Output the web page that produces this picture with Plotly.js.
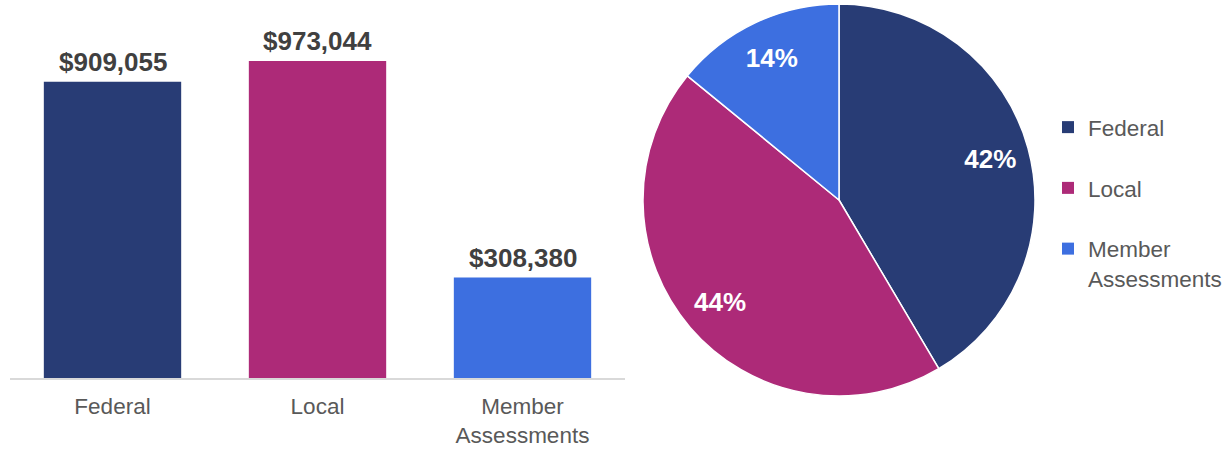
<!DOCTYPE html>
<html><head><meta charset="utf-8">
<script src="https://cdn.plot.ly/plotly-3.0.1.min.js"></script>
<style>html,body{margin:0;padding:0;background:#fff}#c{width:1230px;height:449px}</style>
</head><body><div id="c"></div>
<script>
const categories = ['Federal', 'Local', 'Member Assessments'];
const tickLabels = ['Federal', 'Local', 'Member<br>Assessments'];
const legendLabels = ['Federal', 'Local', 'Member<br>Assessments'];
const amounts = [909055, 973044, 308380];
const barLabels = ['$909,055', '$973,044', '$308,380'];
const colors = ['#283C75', '#AD2A78', '#3D6FE0'];

const font = 'Liberation Sans, Arial, sans-serif';

const barTraces = categories.map((c, i) => ({
  type: 'bar', x: [c], y: [amounts[i]], name: legendLabels[i],
  legendgroup: 'g' + i,
  marker: {color: colors[i]},
  hoverinfo: 'none', showlegend: true, xaxis: 'x', yaxis: 'y'
}));

const pieDomain = {x: [643/1230, 1035/1230], y: [53/449, 445/449]};

const pieTrace = {
  type: 'pie', labels: categories, values: amounts, sort: false,
  direction: 'clockwise', rotation: 0,
  marker: {colors: colors, line: {color: '#ffffff', width: 1.5}},
  textinfo: 'none', domain: pieDomain, hoverinfo: 'none', showlegend: false
};

const pieTextTrace = {
  type: 'pie', labels: categories, values: amounts, sort: false,
  direction: 'clockwise', rotation: 0, hole: 0.6,
  marker: {colors: ['rgba(0,0,0,0)', 'rgba(0,0,0,0)', 'rgba(0,0,0,0)'], line: {width: 0}},
  textinfo: 'percent', texttemplate: '%{percent:.0%}', textposition: 'inside',
  insidetextorientation: 'horizontal',
  textfont: {family: font, size: 26, color: '#ffffff', weight: 'bold'},
  domain: pieDomain, hoverinfo: 'none', showlegend: false
};

const annotations = categories.map((c, i) => ({
  xref: 'x', yref: 'y', x: c, y: amounts[i], text: barLabels[i],
  showarrow: false, yanchor: 'bottom', yshift: 3,
  font: {family: font, size: 26, color: '#404040', weight: 'bold'}
}));

const layout = {
  width: 1230, height: 449,
  margin: {l: 0, r: 0, t: 0, b: 0},
  paper_bgcolor: '#fff', plot_bgcolor: '#fff',
  font: {family: font, color: '#595959'},
  barmode: 'overlay',
  bargap: 0.33,
  xaxis: {
    domain: [10/1230, 625/1230], tickvals: categories, ticktext: tickLabels,
    categoryorder: 'array', categoryarray: categories,
    showline: true, linecolor: '#D9D9D9', linewidth: 1.5,
    ticks: '', ticklabelstandoff: 7,
    tickfont: {size: 22.5, color: '#595959', family: font},
    showgrid: false, zeroline: false, fixedrange: true
  },
  yaxis: {
    domain: [71/449, 439/449], range: [0, 1129560],
    visible: false, showgrid: false, zeroline: false, fixedrange: true
  },
  annotations: annotations,
  showlegend: true,
  legend: {
    x: 1048/1230, y: 343/449, xanchor: 'left', yanchor: 'top',
    font: {family: font, size: 22.5, color: '#595959'},
    bgcolor: 'rgba(0,0,0,0)', itemwidth: 30, valign: 'top',
    traceorder: 'grouped', tracegroupgap: 28.5
  }
};

Plotly.newPlot('c', [...barTraces, pieTrace, pieTextTrace], layout, {staticPlot: true, displayModeBar: false});
</script></body></html>
